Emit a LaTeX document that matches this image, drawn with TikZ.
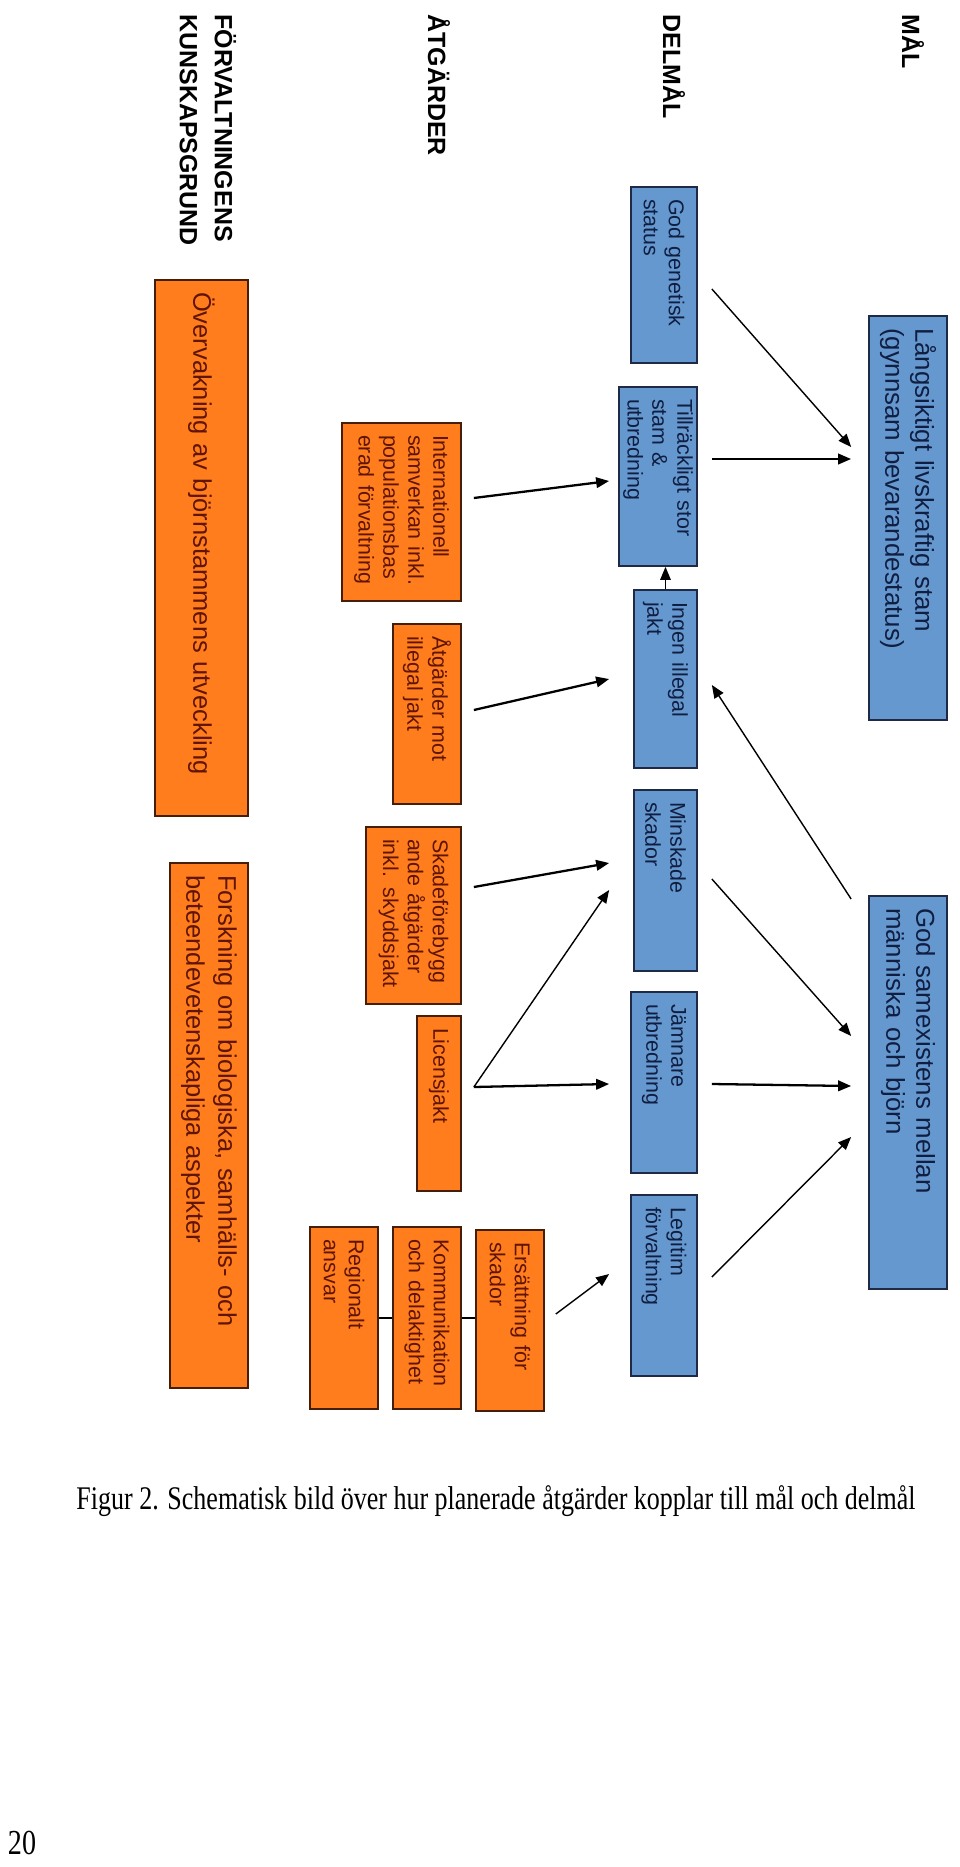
\documentclass[tikz,border=0pt]{standalone}
\usepackage{fontspec}
\setmainfont{Liberation Serif}
\setsansfont{Liberation Sans}
\usetikzlibrary{arrows.meta,calc}

\definecolor{goalblue}{RGB}{101,152,206}
\definecolor{goalline}{RGB}{30,42,70}
\definecolor{goaltext}{RGB}{16,30,66}
\definecolor{actorange}{RGB}{255,125,28}
\definecolor{actline}{RGB}{70,30,5}
\definecolor{acttext}{RGB}{95,20,5}

\begin{document}
\begin{tikzpicture}[
    x=0.02cm,
    y=-0.02cm,
    box/.style={
      draw,
      rotate=-90,
      align=left,
      inner xsep=0.24cm,
      inner ysep=0pt,
      line width=1pt,
      font=\sffamily\fontsize{12.2}{14.2}\selectfont
    },
    delmal/.style={
      box,
      fill=goalblue,
      draw=goalline,
      text=goaltext
    },
    mal/.style={
      delmal,
      font=\sffamily\fontsize{14.7}{17.1}\selectfont
    },
    atgard/.style={
      box,
      fill=actorange,
      draw=actline,
      text=acttext
    },
    grund/.style={
      atgard,
      font=\sffamily\fontsize{14.5}{18.2}\selectfont
    },
    size/.style 2 args={
      text width=#1cm,
      minimum height=#2cm
    },
    heading/.style={
      rotate=-90,
      anchor=west,
      align=left,
      inner sep=0pt,
      font=\sffamily\bfseries\fontsize{14.2}{19.9}\selectfont
    },
    link/.style={
      -{Triangle[length=0.26cm,width=0.21cm]},
      line width=0.8pt
    },
    boldlink/.style={
      link,
      line width=1.3pt
    }
  ]

    % --- Page
    \fill[white] (0,0) rectangle (960,1867);
    \useasboundingbox (0,0) rectangle (960,1867);

    % --- Row headings
    \node[heading] (malhead) at (913,14) {MÅL};
    \node[heading] (delhead) at (674,14) {DELMÅL};
    \node[heading] (atghead) at (439,14) {ÅTGÄRDER};
    \node[heading] (grundhead) at (208,14) {FÖRVALTNINGENS\\KUNSKAPSGRUND};

    % --- Mål
    \node[mal, size={7.60}{1.56}] (lang) at (908,518)
      {Långsiktigt livskraftig stam\\(gynnsam bevarandestatus)};
    \node[mal, size={7.38}{1.56}] (samex) at (908,1092.5)
      {God samexistens mellan\\människa och björn};

    % --- Delmål
    \node[delmal, size={3.04}{1.32}] (gg) at (664,275) {God genetisk\\status};
    \node[delmal, size={3.10}{1.56}] (stor) at (658,476.5) {Tillräckligt stor\\stam \&\\utbredning};
    \node[delmal, size={3.08}{1.26}] (ingen) at (665.5,679) {Ingen illegal\\jakt};
    \node[delmal, size={3.14}{1.26}] (mins) at (665.5,880.5) {Minskade\\skador};
    \node[delmal, size={3.14}{1.32}] (jamn) at (664,1082.5) {Jämnare\\utbredning};
    \node[delmal, size={3.14}{1.32}] (legit) at (664,1285.5) {Legitim\\förvaltning};

    % --- Åtgärder
    \node[atgard, size={3.08}{2.38}] (intl) at (401.5,512)
      {Internationell\\samverkan inkl.\\populationsbas\\erad förvaltning};
    \node[atgard, size={3.12}{1.36}] (illeg) at (427,714) {Åtgärder mot\\illegal jakt};
    \node[atgard, size={3.06}{1.90}] (skade) at (413.5,915.5)
      {Skadeförebygg\\ande åtgärder\\inkl. skyddsjakt};
    \node[atgard, size={3.02}{0.88}] (lic) at (439,1103.5) {Licensjakt};
    \node[atgard, size={3.14}{1.36}] (ers) at (510,1320.5) {Ersättning för\\skador};
    \node[atgard, size={3.16}{1.36}] (komm) at (427,1318) {Kommunikation\\och delaktighet};
    \node[atgard, size={3.16}{1.36}] (reg) at (344,1318) {Regionalt\\ansvar};

    % --- Kunskapsgrund
    \node[grund, size={10.24}{1.86}] (overv) at (201.5,548)
      {Övervakning av björnstammens utveckling};
    \node[grund, size={10.02}{1.56}] (forsk) at (209,1125.5)
      {Forskning om biologiska, samhälls- och\\beteendevetenskapliga aspekter};

    % --- Delmål -> mål
    \draw[link] ($(gg.north)+(14,14)$) -- ($(lang.south)+(-17,-71)$);
    \draw[boldlink] ($(stor.north)+(14,-17.5)$) -- ($(lang.south)+(-17,-59)$);
    \draw[link] ($(mins.north)+(14,-1.5)$) -- ($(samex.south)+(-17,-56.5)$);
    \draw[boldlink] ($(jamn.north)+(14,1.5)$) -- ($(samex.south)+(-17,-6.5)$);
    \draw[link] ($(legit.north)+(14,-8.5)$) -- ($(samex.south)+(-17,44.5)$);

    % --- Mål -> delmål and delmål -> delmål
    \draw[link] ($(samex.south)+(-17,-193.5)$) -- ($(ingen.north)+(14,6)$);
    \draw[link] (ingen.west) -- (ingen.west |- stor.east);

    % --- Åtgärder -> delmål
    \draw[boldlink] ($(intl.north)+(12,-14)$) -- ($(stor.south)+(-9,4.5)$);
    \draw[boldlink] ($(illeg.north)+(12,-4)$) -- ($(ingen.south)+(-24,0)$);
    \draw[boldlink] ($(skade.north)+(12,-28.5)$) -- ($(mins.south)+(-24,-17.5)$);
    \draw[link] ($(lic.north)+(12,-16.5)$) -- ($(mins.south)+(-24,9.5)$);
    \draw[boldlink] ($(lic.north)+(12,-16.5)$) -- ($(jamn.south)+(-21,1.5)$);
    \draw[link] ($(ers.north)+(11,-6.5)$) -- ($(legit.south)+(-21,-11.5)$);

    % --- Ties between the last three åtgärder
    \draw[line width=1pt] (reg.north) -- (reg.north -| komm.south);
    \draw[line width=1pt] (komm.north) -- (komm.north -| ers.south);

    % --- Caption and page number
    \node[font=\rmfamily\fontsize{14.8}{18}\selectfont, yscale=1.27] (caption) at (496,1501)
      {Figur 2. Schematisk bild över hur planerade åtgärder kopplar till mål och delmål};
    \node[font=\rmfamily\fontsize{16}{19}\selectfont, yscale=1.25, inner sep=1pt] (pagenum) at (22,1843) {20};

  \end{tikzpicture}
\end{document}
